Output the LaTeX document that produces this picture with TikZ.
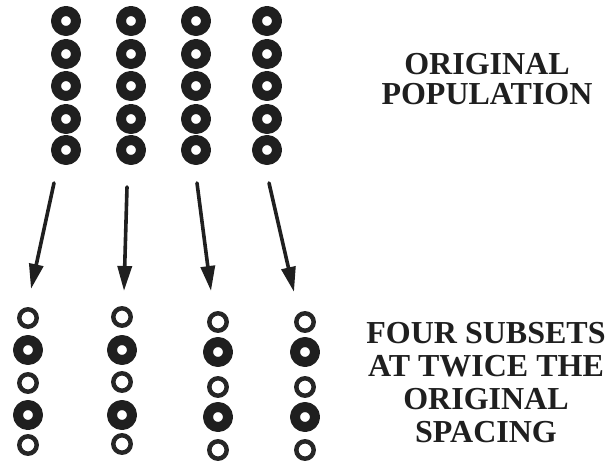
\documentclass[tikz,border=0pt]{standalone}
\usepackage{fontspec}
\setmainfont{Liberation Serif}
\usepackage{tikz}
\usetikzlibrary{arrows.meta}
\tikzset{
 bigring/.style={line width=10bp,draw=black!88},
 smallring/.style={line width=4.5bp,draw=black!85},
 pointer/.style={line width=3.6bp,draw=black!88,-{Triangle[length=25bp,width=14bp]}},
 toplabel/.style={align=center,inner sep=0pt,anchor=north,text=black!88,font=\bfseries\fontsize{32bp}{30bp}\selectfont},
 botlabel/.style={align=center,inner sep=0pt,anchor=north,text=black!88,font=\bfseries\fontsize{32bp}{33bp}\selectfont}
}

\begin{document}
\begin{tikzpicture}[line cap=round,line join=round,x=1bp,y=-1bp]
\useasboundingbox (0,0) rectangle (612,463);
\foreach \x in {66,131,196,267}
  \foreach \y in {21,54,86,119,150}
    \draw[bigring] (\x,\y) circle (10bp);
%bottom subsets
\foreach \x/\y in {28/318,28/383,28/445,122/317,122/382,122/444,218/322,218/387,218/450,305/322,305/387,305/450}
  \draw[smallring] (\x,\y) circle (8.7bp);
\foreach \x/\y in {28/350,28/415,122/350,122/415,218/352,218/417,305/352,305/417}
  \draw[bigring] (\x,\y) circle (10bp);
\coordinate (s1) at (54,183);
\coordinate (e1) at (31,289);
\coordinate (s2) at (127,187);
\coordinate (e2) at (124,291);
\coordinate (s3) at (197,183);
\coordinate (e3) at (211,291);
\coordinate (s4) at (269,183);
\coordinate (e4) at (294,292);
\draw[pointer] (s1) -- (e1);
\draw[pointer] (s2) -- (e2);
\draw[pointer] (s3) -- (e3);
\draw[pointer] (s4) -- (e4);
\node[toplabel] (orig) at (487,53) {ORIGINAL\\POPULATION};
\node[botlabel] (subs) at (486,322) {FOUR SUBSETS\\AT TWICE THE\\ORIGINAL\\SPACING};
\end{tikzpicture}
\end{document}
